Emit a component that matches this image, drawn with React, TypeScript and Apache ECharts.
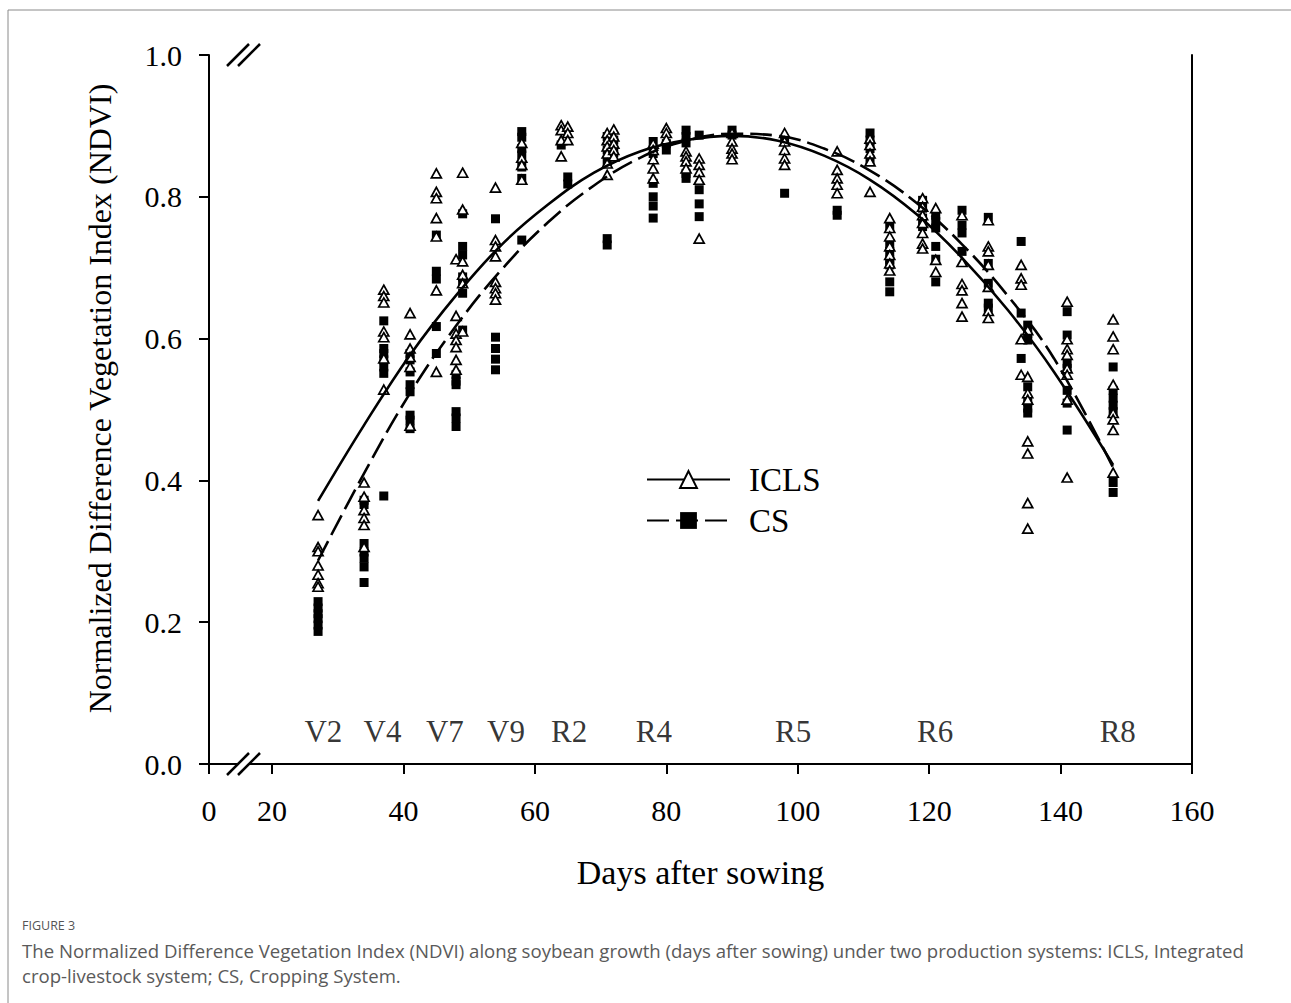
import { useEffect, useRef } from "react";
import * as echarts from "echarts";

const SERIF = "'Times New Roman', 'Liberation Serif', 'DejaVu Serif', serif";
const SANS = "'Open Sans', 'Noto Sans', sans-serif";

// x axis: broken axis, the "0" tick sits just left of the break
const X_ZERO_POS = 10.4;
const xTickValues = [X_ZERO_POS, 20, 40, 60, 80, 100, 120, 140, 160];

// Observed NDVI (day after sowing, values)
const iclsObs: [number, number[]][] = [
  [27, [0.351, 0.306, 0.3, 0.28, 0.267, 0.255, 0.25]],
  [34, [0.397, 0.377, 0.358, 0.347, 0.337, 0.306]],
  [37, [0.669, 0.66, 0.651, 0.61, 0.602, 0.572, 0.528]],
  [41, [0.636, 0.606, 0.586, 0.574, 0.56, 0.477]],
  [45, [0.833, 0.807, 0.798, 0.77, 0.744, 0.668, 0.553]],
  [48, [0.712, 0.632, 0.607, 0.598, 0.588, 0.57, 0.556]],
  [49, [0.834, 0.782, 0.709, 0.69, 0.678, 0.61]],
  [54, [0.813, 0.739, 0.73, 0.716, 0.68, 0.671, 0.664, 0.655]],
  [58, [0.876, 0.855, 0.845, 0.824]],
  [64, [0.901, 0.894, 0.88, 0.857]],
  [65, [0.899, 0.89, 0.88]],
  [71, [0.89, 0.88, 0.871, 0.861, 0.847, 0.831]],
  [72, [0.895, 0.885, 0.875, 0.866, 0.857]],
  [78, [0.875, 0.866, 0.853, 0.84, 0.826]],
  [80, [0.897, 0.89, 0.881]],
  [83, [0.864, 0.857, 0.85, 0.84]],
  [85, [0.854, 0.845, 0.835, 0.824, 0.741]],
  [90, [0.89, 0.878, 0.868, 0.861, 0.853]],
  [98, [0.89, 0.878, 0.866, 0.854, 0.845]],
  [106, [0.864, 0.838, 0.826, 0.817, 0.805]],
  [111, [0.882, 0.873, 0.861, 0.85, 0.807]],
  [114, [0.77, 0.756, 0.744, 0.73, 0.718, 0.706, 0.696]],
  [119, [0.798, 0.786, 0.774, 0.763, 0.749, 0.734, 0.727]],
  [121, [0.784, 0.711, 0.694]],
  [125, [0.774, 0.708, 0.677, 0.668, 0.65, 0.631]],
  [129, [0.767, 0.73, 0.723, 0.704, 0.673, 0.639, 0.629]],
  [134, [0.704, 0.685, 0.676, 0.599, 0.549]],
  [135, [0.612, 0.546, 0.523, 0.514, 0.455, 0.438, 0.368, 0.332]],
  [141, [0.652, 0.599, 0.585, 0.577, 0.558, 0.549, 0.514, 0.404]],
  [148, [0.627, 0.603, 0.585, 0.535, 0.495, 0.486, 0.471, 0.411]],
];

const csObs: [number, number[]][] = [
  [27, [0.229, 0.22, 0.212, 0.205, 0.196, 0.187]],
  [34, [0.372, 0.366, 0.311, 0.299, 0.29, 0.278, 0.256]],
  [37, [0.625, 0.586, 0.579, 0.57, 0.56, 0.551, 0.378]],
  [41, [0.579, 0.57, 0.553, 0.535, 0.525, 0.492, 0.485, 0.473]],
  [45, [0.746, 0.695, 0.684, 0.617, 0.579]],
  [48, [0.549, 0.54, 0.535, 0.497, 0.488, 0.476]],
  [49, [0.776, 0.73, 0.718, 0.687, 0.678, 0.664, 0.612]],
  [54, [0.769, 0.602, 0.586, 0.571, 0.556]],
  [58, [0.892, 0.884, 0.868, 0.859, 0.842, 0.826, 0.739]],
  [64, [0.873]],
  [65, [0.828, 0.818]],
  [71, [0.885, 0.866, 0.85, 0.741, 0.732]],
  [72, [0.88, 0.862]],
  [78, [0.878, 0.861, 0.819, 0.8, 0.787, 0.77]],
  [80, [0.875, 0.866]],
  [83, [0.894, 0.885, 0.876, 0.833, 0.826]],
  [85, [0.887, 0.81, 0.79, 0.772]],
  [90, [0.894, 0.887]],
  [98, [0.878, 0.805]],
  [106, [0.781, 0.774]],
  [111, [0.89, 0.88, 0.868, 0.852]],
  [114, [0.758, 0.734, 0.723, 0.711, 0.704, 0.68, 0.666]],
  [119, [0.795, 0.784, 0.77, 0.758]],
  [121, [0.774, 0.765, 0.756, 0.73, 0.712, 0.68]],
  [125, [0.781, 0.76, 0.749, 0.723]],
  [129, [0.771, 0.706, 0.678, 0.65, 0.643]],
  [134, [0.737, 0.636, 0.572]],
  [135, [0.619, 0.607, 0.598, 0.532, 0.511, 0.502, 0.495]],
  [141, [0.638, 0.605, 0.565, 0.558, 0.527, 0.509, 0.471]],
  [148, [0.56, 0.527, 0.516, 0.506, 0.497, 0.397, 0.383]],
];

// Fitted curves
const fitDays = [27, 34, 41, 48, 55, 62, 69, 76, 83, 90, 97, 104, 111, 118, 125, 132, 139, 148];
const iclsFit = [0.371, 0.478, 0.577, 0.661, 0.733, 0.789, 0.834, 0.864, 0.880, 0.886, 0.879, 0.858, 0.824, 0.776, 0.714, 0.640, 0.553, 0.422];
const csFit = [0.287, 0.41, 0.523, 0.618, 0.698, 0.764, 0.816, 0.855, 0.879, 0.889, 0.886, 0.868, 0.837, 0.792, 0.733, 0.66, 0.572, 0.418];

// Growth stage labels
const stageNames = ["V2", "V4", "V7", "V9", "R2", "R4", "R5", "R6", "R8"];
const stageDays = [27.8, 36.8, 46.3, 55.6, 65.2, 78.1, 99.3, 120.9, 148.7];
const STAGE_NDVI = 0.0456;

const captionTitle = "FIGURE 3";
const captionLines = [
  "The Normalized Difference Vegetation Index (NDVI) along soybean growth (days after sowing) under two production systems: ICLS, Integrated",
  "crop-livestock system; CS, Cropping System.",
];

function flatten(obs: [number, number[]][]) {
  const out: number[][] = [];
  obs.forEach(([d, vals]) => vals.forEach((v) => out.push([d, v])));
  return out;
}

export default function App() {
  const ref = useRef<HTMLDivElement>(null);
  useEffect(() => {
    if (!ref.current) return;
    const chart = echarts.init(ref.current, undefined, { renderer: "svg" });
    const axisLine = { show: true, lineStyle: { color: "#000", width: 2 } };
    const breakLines = (y: number) => [
      { type: "rect", shape: { x: 239, y: y - 3, width: 10, height: 6 }, style: { fill: "#fff" }, z: 100, silent: true },
      { type: "line", shape: { x1: 227, y1: y + 11, x2: 249, y2: y - 11 }, style: { stroke: "#000", lineWidth: 2.5 }, z: 101, silent: true },
      { type: "line", shape: { x1: 238, y1: y + 11, x2: 260, y2: y - 11 }, style: { stroke: "#000", lineWidth: 2.5 }, z: 101, silent: true },
    ];
    chart.setOption({
      animation: false,
      backgroundColor: "#fff",
      grid: { left: 209, top: 55, width: 983, height: 709, containLabel: false },
      legend: {
        data: ["ICLS", "CS"],
        orient: "vertical",
        left: 646,
        top: 463,
        padding: 0,
        itemWidth: 83,
        itemHeight: 21,
        itemGap: 8,
        selectedMode: false,
        textStyle: { fontFamily: SERIF, fontSize: 33, color: "#000", padding: [0, 0, 0, 14] },
      },
      xAxis: [
        {
          type: "value",
          min: X_ZERO_POS,
          max: 160,
          position: "bottom",
          axisLine,
          splitLine: { show: false },
          axisTick: { show: true, inside: false, length: 10, customValues: xTickValues, lineStyle: { color: "#000", width: 2 } },
          axisLabel: {
            customValues: xTickValues,
            formatter: (v: number) => (v < 15 ? "0" : String(Math.round(v))),
            fontFamily: SERIF,
            fontSize: 30,
            color: "#000",
            margin: 31,
          },
          name: "Days after sowing",
          nameLocation: "middle",
          nameGap: 91,
          nameTextStyle: { fontFamily: SERIF, fontSize: 34, color: "#000" },
        },
        {
          type: "value",
          min: X_ZERO_POS,
          max: 160,
          position: "top",
          axisLine,
          axisTick: { show: false },
          axisLabel: { show: false },
          splitLine: { show: false },
        },
      ],
      yAxis: [
        {
          type: "value",
          min: 0,
          max: 1,
          interval: 0.2,
          axisLine,
          splitLine: { show: false },
          axisTick: { show: true, inside: false, length: 10, lineStyle: { color: "#000", width: 2 } },
          axisLabel: {
            formatter: (v: number) => v.toFixed(1),
            fontFamily: SERIF,
            fontSize: 30,
            color: "#000",
            margin: 27,
          },
          name: "Normalized Difference Vegetation Index (NDVI)",
          nameLocation: "middle",
          nameGap: 93,
          nameTextStyle: { fontFamily: SERIF, fontSize: 32, color: "#000", padding: [0, 0, 0, 22] },
        },
        {
          type: "value",
          min: 0,
          max: 1,
          position: "right",
          axisLine,
          axisTick: { show: false },
          axisLabel: { show: false },
          splitLine: { show: false },
        },
      ],
      series: [
        {
          name: "ICLS",
          type: "line",
          data: fitDays.map((d, i) => [d, iclsFit[i]]),
          smooth: 0.4,
          showSymbol: false,
          symbol: "triangle",
          symbolSize: 10,
          lineStyle: { color: "#000", width: 2.6, type: "solid" },
          itemStyle: { color: "#fff", borderColor: "#000", borderWidth: 1.6 },
          z: 5,
          silent: true,
        },
        {
          name: "CS",
          type: "line",
          data: fitDays.map((d, i) => [d, csFit[i]]),
          smooth: 0.4,
          showSymbol: false,
          symbol: "rect",
          symbolSize: 9,
          lineStyle: { color: "#000", width: 2.6, type: [22, 7] },
          itemStyle: { color: "#000" },
          z: 5,
          silent: true,
        },
        {
          name: "CS",
          type: "scatter",
          data: flatten(csObs),
          symbol: "rect",
          symbolSize: 9,
          itemStyle: { color: "#000", opacity: 1 },
          z: 3,
          silent: true,
        },
        {
          name: "ICLS",
          type: "scatter",
          data: flatten(iclsObs),
          symbol: "triangle",
          symbolSize: [10, 9],
          itemStyle: { color: "#fff", borderColor: "#000", borderWidth: 1.7, opacity: 1 },
          z: 4,
          silent: true,
        },
        {
          name: "stages",
          type: "scatter",
          data: stageDays.map((d, i) => ({ name: stageNames[i], value: [d, STAGE_NDVI] })),
          symbolSize: 0,
          silent: true,
          label: {
            show: true,
            position: "inside",
            formatter: "{b}",
            fontFamily: SERIF,
            fontSize: 31,
            color: "#000",
          },
        },
      ],
      graphic: [
        { type: "rect", shape: { x: 8, y: 10, width: 1400, height: 1100 }, style: { fill: "none", stroke: "#8a8a8a", lineWidth: 1 }, z: -10, silent: true },
        ...breakLines(764),
        ...breakLines(55),
        {
          type: "text",
          x: 22,
          y: 925,
          style: { text: captionTitle, fontFamily: SANS, fontSize: 12.5, fill: "#555", verticalAlign: "middle" },
          silent: true,
        },
        ...captionLines.map((t, i) => ({
          type: "text",
          x: 22,
          y: 950 + i * 25,
          style: { text: t, fontFamily: SANS, fontSize: 18.6, fill: "#5a5a5a", verticalAlign: "middle" },
          silent: true,
        })),
      ],
    });
    return () => chart.dispose();
  }, []);
  return <div ref={ref} style={{ position: "fixed", left: 0, top: 0, width: 1291, height: 1003 }} />;
}
